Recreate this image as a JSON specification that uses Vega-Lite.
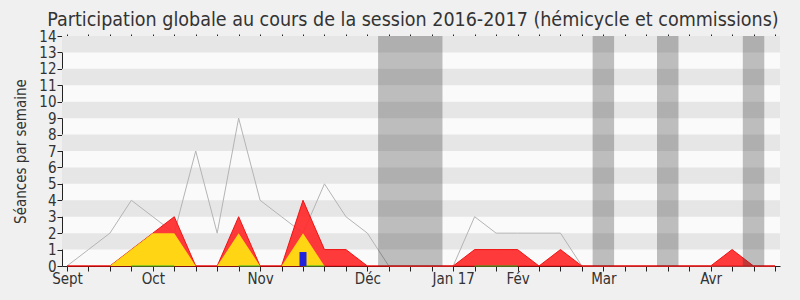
{
  "$schema": "https://vega.github.io/schema/vega-lite/v6.json",
  "width": 718,
  "height": 230,
  "autosize": {"type": "none"},
  "padding": {"left": 62, "top": 36, "right": 20, "bottom": 34},
  "background": "#f0f0f0",
  "title": {
    "text": "Participation globale au cours de la session 2016-2017 (hémicycle et commissions)",
    "font": "DejaVu Sans Condensed",
    "fontSize": 19.5,
    "fontWeight": "normal",
    "color": "#333333",
    "anchor": "middle",
    "dx": -8,
    "baseline": "alphabetic",
    "offset": -16
  },
  "config": {
    "view": {"fill": "#fafafa", "stroke": null},
    "axis": {
      "labelFont": "DejaVu Sans Condensed",
      "titleFont": "DejaVu Sans Condensed",
      "labelColor": "#333333",
      "titleColor": "#333333",
      "domainColor": "#222222",
      "tickColor": "#222222",
      "grid": false,
      "zindex": 1
    },
    "axisY": {
      "labelFontSize": 15,
      "labelPadding": 1,
      "tickSize": 5,
      "titleFontSize": 15,
      "titleFontWeight": "normal",
      "titlePadding": 10,
      "labelOverlap": false
    }
  },
  "datasets": {
    "weeks": [
      {"w": 0, "presence": 0, "red": 0, "yellow": 0},
      {"w": 1, "presence": 1, "red": 0, "yellow": 0},
      {"w": 2, "presence": 2, "red": 0, "yellow": 0},
      {"w": 3, "presence": 4, "red": 1, "yellow": 1},
      {"w": 4, "presence": 3, "red": 2, "yellow": 2},
      {"w": 5, "presence": 2, "red": 3, "yellow": 2},
      {"w": 6, "presence": 7, "red": 0, "yellow": 0},
      {"w": 7, "presence": 2, "red": 0, "yellow": 0},
      {"w": 8, "presence": 9, "red": 3, "yellow": 2},
      {"w": 9, "presence": 4, "red": 0, "yellow": 0},
      {"w": 10, "presence": 3, "red": 0, "yellow": 0},
      {"w": 11, "presence": 2, "red": 4, "yellow": 2},
      {"w": 12, "presence": 5, "red": 1, "yellow": 0},
      {"w": 13, "presence": 3, "red": 1, "yellow": 0},
      {"w": 14, "presence": 2, "red": 0, "yellow": 0},
      {"w": 15, "presence": 0, "red": 0, "yellow": 0},
      {"w": 16, "presence": 0, "red": 0, "yellow": 0},
      {"w": 17, "presence": 0, "red": 0, "yellow": 0},
      {"w": 18, "presence": 0, "red": 0, "yellow": 0},
      {"w": 19, "presence": 3, "red": 1, "yellow": 0},
      {"w": 20, "presence": 2, "red": 1, "yellow": 0},
      {"w": 21, "presence": 2, "red": 1, "yellow": 0},
      {"w": 22, "presence": 2, "red": 0, "yellow": 0},
      {"w": 23, "presence": 2, "red": 1, "yellow": 0},
      {"w": 24, "presence": 0, "red": 0, "yellow": 0},
      {"w": 25, "presence": 0, "red": 0, "yellow": 0},
      {"w": 26, "presence": 0, "red": 0, "yellow": 0},
      {"w": 27, "presence": 0, "red": 0, "yellow": 0},
      {"w": 28, "presence": 0, "red": 0, "yellow": 0},
      {"w": 29, "presence": 0, "red": 0, "yellow": 0},
      {"w": 30, "presence": 0, "red": 0, "yellow": 0},
      {"w": 31, "presence": 0, "red": 1, "yellow": 0},
      {"w": 32, "presence": 0, "red": 0, "yellow": 0},
      {"w": 33, "presence": 0, "red": 0, "yellow": 0}
    ],
    "stripes": [
      {"lo": 1, "hi": 2}, {"lo": 3, "hi": 4}, {"lo": 5, "hi": 6}, {"lo": 7, "hi": 8},
      {"lo": 9, "hi": 10}, {"lo": 11, "hi": 12}, {"lo": 13, "hi": 14}
    ],
    "holidays": [
      {"start": 14.5, "end": 17.5},
      {"start": 24.5, "end": 25.5},
      {"start": 27.5, "end": 28.5},
      {"start": 31.5, "end": 32.5}
    ],
    "green": [
      {"seg": "a", "w": 3, "v": 0}, {"seg": "a", "w": 5, "v": 0},
      {"seg": "b", "w": 8, "v": 0}, {"seg": "b", "w": 9, "v": 0},
      {"seg": "c", "w": 11, "v": 0}, {"seg": "c", "w": 12, "v": 0},
      {"seg": "d", "w": 19, "v": 0}, {"seg": "d", "w": 21, "v": 0}
    ],
    "blue": [
      {"w": 11, "v": 0.85}
    ]
  },
  "resolve": {"axis": {"x": "independent"}},
  "layer": [
    {
      "data": {"name": "stripes"},
      "mark": {"type": "rect", "color": "#e6e6e6"},
      "encoding": {
        "y": {
          "field": "lo", "type": "quantitative",
          "scale": {"domain": [0, 14], "nice": false},
          "axis": {"title": "Séances par semaine", "values": [0,1,2,3,4,5,6,7,8,9,10,11,12,13,14]}
        },
        "y2": {"field": "hi"}
      }
    },
    {
      "data": {"name": "weeks"},
      "mark": {"type": "line", "color": "#b4b4b4", "strokeWidth": 1},
      "encoding": {
        "x": {
          "field": "w", "type": "quantitative",
          "scale": {"domain": [0, 33], "nice": false, "zero": false},
          "axis": {
            "title": null,
            "orient": "bottom",
            "values": [0,1,2,3,4,5,6,7,8,9,10,11,12,13,14,15,16,17,18,19,20,21,22,23,24,25,26,27,28,29,30,31,32,33],
            "labelExpr": "datum.value == 0 ? 'Sept' : datum.value == 4 ? 'Oct' : datum.value == 9 ? 'Nov' : datum.value == 14 ? 'Déc' : datum.value == 18 ? 'Jan 17' : datum.value == 21 ? 'Fév' : datum.value == 25 ? 'Mar' : datum.value == 30 ? 'Avr' : ''",
            "labelOverlap": false,
            "labelFontSize": 15,
            "labelPadding": 0,
            "tickSize": 5,
            "labelFlush": false
          }
        },
        "y": {
          "field": "presence", "type": "quantitative",
          "axis": {"title": "Séances par semaine", "values": [0,1,2,3,4,5,6,7,8,9,10,11,12,13,14]}
        }
      }
    },
    {
      "data": {"name": "weeks"},
      "mark": {"type": "area", "color": "#ff2a2a", "opacity": 0.92, "stroke": "#f00000", "strokeWidth": 1},
      "encoding": {
        "x": {"field": "w", "type": "quantitative", "axis": null},
        "y": {
          "field": "red", "type": "quantitative",
          "axis": {"title": "Séances par semaine", "values": [0,1,2,3,4,5,6,7,8,9,10,11,12,13,14]}
        }
      }
    },
    {
      "data": {"name": "weeks"},
      "mark": {"type": "area", "color": "#ffd514"},
      "encoding": {
        "x": {"field": "w", "type": "quantitative", "axis": null},
        "y": {
          "field": "yellow", "type": "quantitative",
          "axis": {"title": "Séances par semaine", "values": [0,1,2,3,4,5,6,7,8,9,10,11,12,13,14]}
        }
      }
    },
    {
      "data": {"name": "green"},
      "mark": {"type": "line", "color": "#22bb22", "strokeWidth": 1},
      "encoding": {
        "x": {"field": "w", "type": "quantitative", "axis": null},
        "y": {
          "field": "v", "type": "quantitative",
          "axis": {"title": "Séances par semaine", "values": [0,1,2,3,4,5,6,7,8,9,10,11,12,13,14]}
        },
        "detail": {"field": "seg", "type": "nominal"}
      }
    },
    {
      "data": {"name": "blue"},
      "mark": {"type": "bar", "color": "#2222dd", "width": 7},
      "encoding": {
        "x": {"field": "w", "type": "quantitative", "axis": null},
        "y": {
          "field": "v", "type": "quantitative",
          "axis": {"title": "Séances par semaine", "values": [0,1,2,3,4,5,6,7,8,9,10,11,12,13,14]}
        }
      }
    },
    {
      "data": {"name": "holidays"},
      "mark": {"type": "rect", "color": "#323232", "opacity": 0.3},
      "encoding": {
        "x": {
          "field": "start", "type": "quantitative",
          "axis": {
            "orient": "top",
            "title": null,
            "domain": false,
            "labels": false,
            "tickSize": 2,
            "values": [0,1,2,3,4,5,6,7,8,9,10,11,12,13,14,15,16,17,18,19,20,21,22,23,24,25,26,27,28,29,30,31,32,33]
          }
        },
        "x2": {"field": "end"},
        "y": {
          "datum": 0, "type": "quantitative",
          "axis": {"title": "Séances par semaine", "values": [0,1,2,3,4,5,6,7,8,9,10,11,12,13,14]}
        },
        "y2": {"datum": 14}
      }
    }
  ]
}
